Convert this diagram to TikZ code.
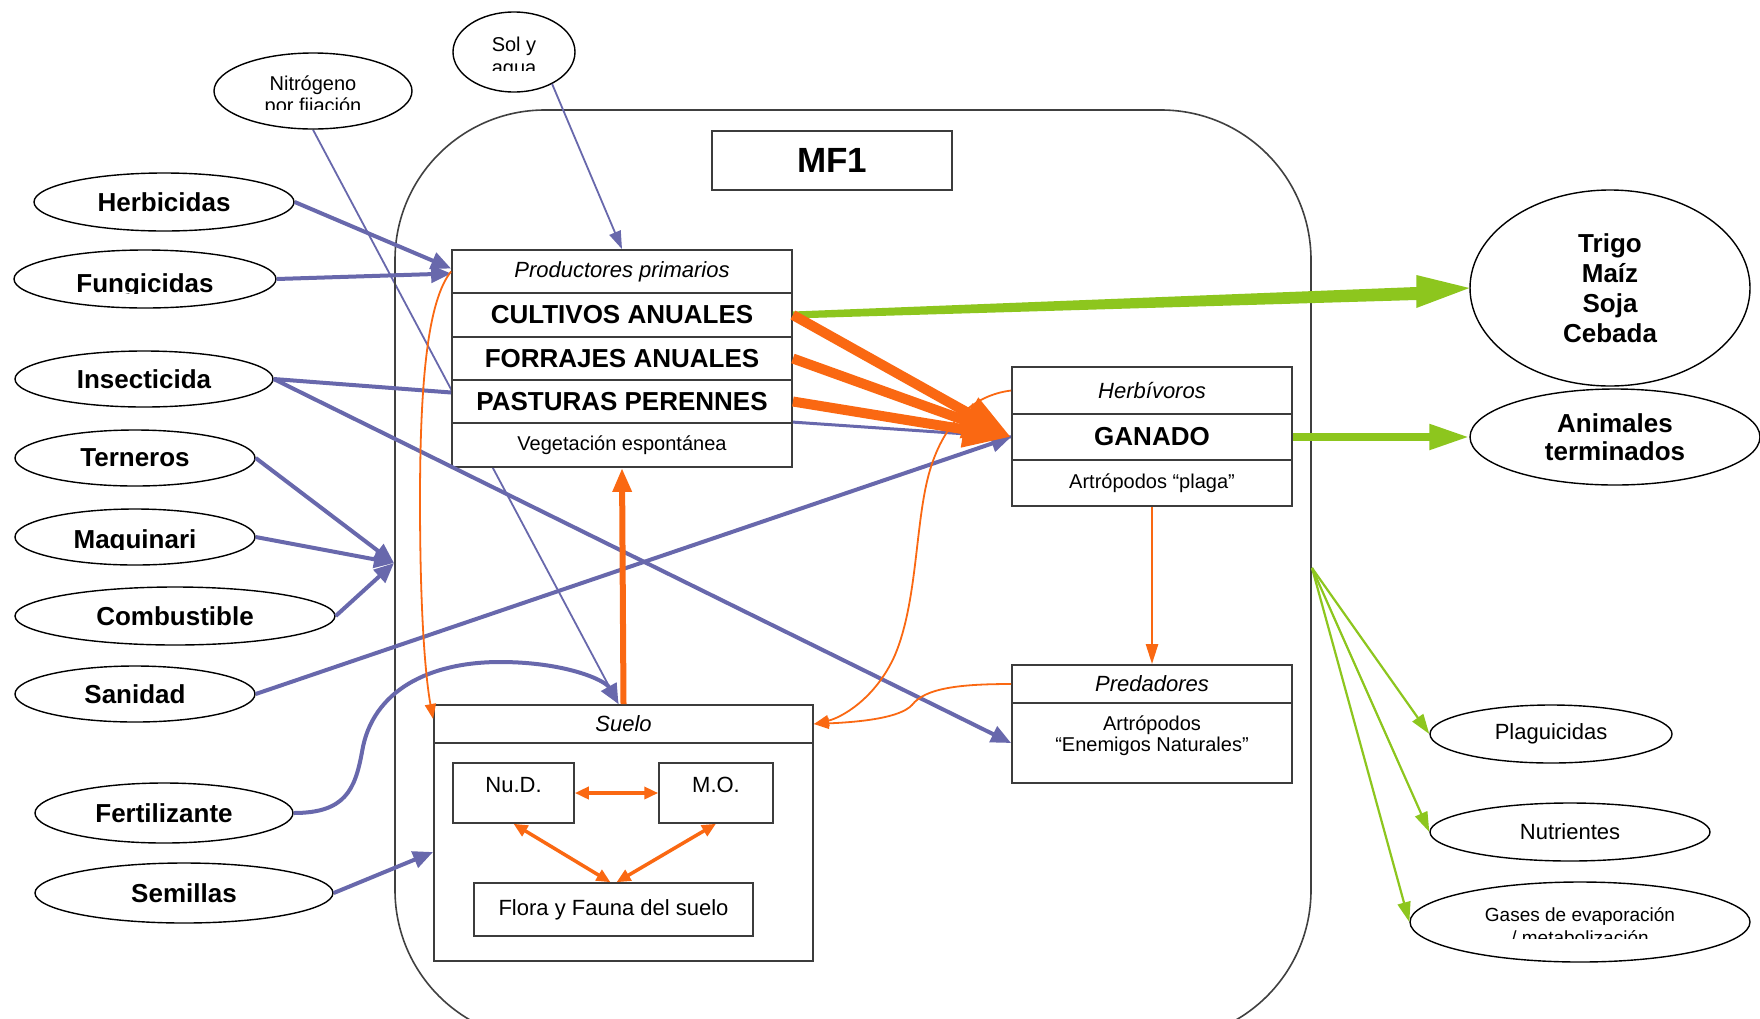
\documentclass[tikz,border=0pt]{standalone}
\usepackage{fontspec}
\setmainfont{Liberation Sans}
\usetikzlibrary{arrows.meta,shapes.geometric,calc}
\definecolor{flowpurple}{RGB}{104,104,172}
\definecolor{floworange}{RGB}{250,104,18}
\definecolor{flowgreen}{RGB}{141,198,30}
\definecolor{boxgray}{RGB}{60,60,60}
\pgfdeclarelayer{behind}
\pgfsetlayers{behind,main}
\begin{document}
\begin{tikzpicture}[x=1pt,y=-1pt,
  oval/.style={ellipse, draw=black, line width=1.4pt, fill=white, inner sep=0pt, align=center},
  cell/.style={rectangle, draw=boxgray, line width=1.8pt, fill=white, inner sep=0pt, align=center},
  inner/.style={rectangle, draw=boxgray, line width=1.5pt, fill=white, inner sep=0pt},
  boldtxt/.style={font=\fontsize{26}{30}\selectfont\bfseries},
  hdrtxt/.style={font=\fontsize{22}{26}\selectfont\itshape},
  smalltxt/.style={font=\fontsize{20}{21}\selectfont},
  midtxt/.style={font=\fontsize{22}{26}\selectfont},
  pthick/.style={draw=flowpurple, line width=4pt, -{Triangle[length=20pt,width=17pt]}},
  pline/.style={draw=flowpurple, line width=4pt},
  pthin/.style={draw=flowpurple, line width=1.8pt, -{Triangle[length=18pt,width=12pt]}},
  obig/.style={draw=floworange, line width=10pt, -{Triangle[length=48pt,width=34pt]}},
  omid/.style={draw=floworange, line width=6pt, -{Triangle[length=24pt,width=18pt]}},
  osoil/.style={draw=floworange, line width=3.5pt, {Triangle[length=14pt,width=12pt]}-{Triangle[length=14pt,width=12pt]}},
  othin/.style={draw=floworange, line width=1.8pt, -{Triangle[length=15pt,width=11pt]}},
  gmid/.style={draw=flowgreen, line width=8pt, -{Triangle[length=40pt,width=24pt]}},
  gthin/.style={draw=flowgreen, line width=2.2pt, -{Triangle[length=20pt,width=13pt]}}
]
\useasboundingbox (0,0) rectangle (1760,1018);
\clip (0,0) rectangle (1760,1018);
\begin{pgfonlayer}{behind}
  \fill[white] (0,0) rectangle (1760,1018);
\end{pgfonlayer}

% system boundary
\draw[draw=black!75, line width=1.6pt, rounded corners=150pt] (395,110) rectangle (1311,1040);

% title
\node[cell, minimum width=240pt, minimum height=59pt, font=\fontsize{35}{40}\selectfont\bfseries] (mf) at (832,160.5) {MF1};

% primary producers
\node[cell, minimum width=340pt, minimum height=43pt, hdrtxt] (prodhdr) at (622,271.5) {Productores primarios};
\node[cell, minimum width=340pt, minimum height=44pt, boldtxt] (prodcult) at (622,315) {CULTIVOS ANUALES};
\node[cell, minimum width=340pt, minimum height=43pt, boldtxt] (prodforr) at (622,358.5) {FORRAJES ANUALES};
\node[cell, minimum width=340pt, minimum height=43pt, boldtxt] (prodpast) at (622,401.5) {PASTURAS PERENNES};
\node[cell, minimum width=340pt, minimum height=44pt, smalltxt] (prodveg) at (622,445) {Vegetación espontánea};

% herbivores
\node[cell, minimum width=280pt, minimum height=47pt, hdrtxt] (herbhdr) at (1152,390.5) {Herbívoros};
\node[cell, minimum width=280pt, minimum height=46pt, boldtxt] (ganado) at (1152,437) {GANADO};
\node[cell, minimum width=280pt, minimum height=46pt, smalltxt] (herbart) at (1152,483) {Artrópodos “plaga”};

% predators
\node[cell, minimum width=280pt, minimum height=38pt, hdrtxt] (predhdr) at (1152,684) {Predadores};
\node[cell, minimum width=280pt, minimum height=80pt] (predbody) at (1152,743) {};
\node[smalltxt, align=center] (predtxt) at (1152,736) {Artrópodos\\“Enemigos Naturales”};

% soil
\node[cell, minimum width=379pt, minimum height=38pt, hdrtxt] (suelohdr) at (623.5,724) {Suelo};
\node[cell, minimum width=379pt, minimum height=218pt] (suelobody) at (623.5,852) {};
\node[inner, minimum width=121pt, minimum height=60pt] (nud) at (513.5,793) {};
\node[midtxt] (nudtxt) at (513.5,785) {Nu.D.};
\node[inner, minimum width=114pt, minimum height=60pt] (mo) at (716,793) {};
\node[midtxt] (motxt) at (716,785) {M.O.};
\node[inner, minimum width=279pt, minimum height=53pt, midtxt] (flora) at (613.5,909.5) {Flora y Fauna del suelo};

% inputs
\node[oval, minimum width=260pt, minimum height=58pt, boldtxt] (herb) at (164,202) {Herbicidas};
\node[oval, minimum width=262pt, minimum height=58pt] (fung) at (145,279) {};
\node[oval, minimum width=258pt, minimum height=56pt, boldtxt] (insect) at (144,379) {Insecticida};
\node[oval, minimum width=240pt, minimum height=56pt, boldtxt] (tern) at (135,458) {Terneros};
\node[oval, minimum width=240pt, minimum height=56pt] (maq) at (135,537) {};
\node[oval, minimum width=320pt, minimum height=58pt, boldtxt] (comb) at (175,616) {Combustible};
\node[oval, minimum width=240pt, minimum height=56pt, boldtxt] (san) at (135,694) {Sanidad};
\node[oval, minimum width=258pt, minimum height=60pt, boldtxt] (fert) at (164,813) {Fertilizante};
\node[oval, minimum width=298pt, minimum height=60pt, boldtxt] (sem) at (184,893) {Semillas};
\node[oval, minimum width=122pt, minimum height=80pt] (sol) at (514,52) {};
\node[oval, minimum width=198pt, minimum height=76pt] (nitro) at (313,91) {};

% outputs
\node[oval, minimum width=280pt, minimum height=196pt, font=\fontsize{26}{30}\selectfont\bfseries] (trigo) at (1610,288) {Trigo\\Maíz\\Soja\\Cebada};
\node[oval, minimum width=290pt, minimum height=96pt, font=\fontsize{26}{28}\selectfont\bfseries] (anim) at (1615,437) {Animales\\terminados};
\node[oval, minimum width=242pt, minimum height=58pt, midtxt] (plag) at (1551,734) {Plaguicidas};
\node[oval, minimum width=280pt, minimum height=58pt, midtxt] (nut) at (1570,832) {Nutrientes};
\node[oval, minimum width=340pt, minimum height=80pt] (gases) at (1580,922) {};

% labels cut off by their frames
\begin{scope}
  \clip (440,0) rectangle (590,70.5);
  \node[align=center, font=\fontsize{20}{23}\selectfont] (soltxt) at (514,58) {Sol y\\agua};
\end{scope}
\begin{scope}
  \clip (200,60) rectangle (420,109);
  \node[align=center, font=\fontsize{20}{22}\selectfont] (nitrotxt) at (313,96) {Nitrógeno\\por fijación};
\end{scope}
\begin{scope}
  \clip (0,250) rectangle (300,293.5);
  \node[boldtxt, anchor=base] (fungtxt) at (145,292) {Fungicidas};
\end{scope}
\begin{scope}
  \clip (0,500) rectangle (300,549.5);
  \node[boldtxt, anchor=base] (maqtxt) at (135,548) {Maquinari};
\end{scope}
\begin{scope}
  \clip (1400,880) rectangle (1760,938.5);
  \node[align=center, font=\fontsize{19}{23}\selectfont] (gasestxt) at (1580,926.5) {Gases de evaporación\\/ metabolización};
\end{scope}

% nitrogen fixation passes behind the producers block
\begin{pgfonlayer}{behind}
  \draw[pthin] (nitro.south) -- ($(suelohdr.north)+(-5,0)$);
\end{pgfonlayer}

% purple inputs
\coordinate (sysin) at (394,563);
\draw[pthin] (sol.-40) -- (prodhdr.north);
\draw[pthick] (herb.east) -- ($(prodhdr.west)+(0,-3)$);
\draw[pthick] (fung.east) -- ($(prodhdr.west)+(0,2)$);
\draw[pline] (insect.east) -- ($(prodpast.west)+(0,-9)$);
\draw[pthick] (insect.east) -- (predbody.west);
\draw[pthick] (tern.east) -- (sysin);
\draw[pthick] (maq.east) -- (sysin);
\draw[pthick] (comb.east) -- (sysin);
\draw[pthick] (san.east) -- (ganado.west);
\draw[pline, line width=3pt] (prodveg.north east) -- (ganado.west);
\draw[pthick] (fert.east) .. controls (345,813) and (355,790) .. (362,752)
  .. controls (372,690) and (430,662) .. (500,662)
  .. controls (565,662) and (605,680) .. ($(suelohdr.north)+(-5,0)$);
\draw[pthick] (sem.east) -- (suelobody.west);

% green outputs (the crop flow widens towards its head)
\coordinate (sysout) at (1312,568);
\fill[flowgreen] ($(prodcult.east)+(0,-3.5)$) -- ($(trigo.west)+(-53,-1)$)
  -- ($(trigo.west)+(-53,-13)$) -- (trigo.west) -- ($(trigo.west)+(-53,20)$)
  -- ($(trigo.west)+(-53,12)$) -- ($(prodcult.east)+(0,3.5)$) -- cycle;
\draw[gmid] (ganado.east) -- (anim.west);
\draw[gthin] (sysout) -- (plag.west);
\draw[gthin] (sysout) -- (nut.west);
\draw[gthin] (sysout) -- (gases.west);

% orange internal flows
\draw[obig] (prodcult.east) -- (ganado.west);
\draw[obig] (prodforr.east) -- (ganado.west);
\draw[obig] (prodpast.east) -- (ganado.west);
\draw[omid] (suelohdr.north) -- (prodveg.south);
\draw[othin, line width=2.5pt, -{Triangle[length=20pt,width=12pt]}] (herbart.south) -- (predhdr.north);
\draw[othin] (prodhdr.west) .. controls (428,300) and (420,380) .. (420,500)
  .. controls (420,620) and (426,680) .. ($(suelohdr.west)+(0,-5)$);
\draw[othin] (herbhdr.west) .. controls (975,395) and (945,420) .. (930,470)
  .. controls (915,520) and (918,600) .. (895,655)
  .. controls (875,700) and (840,718) .. (suelohdr.east);
\draw[othin] (predhdr.west) .. controls (960,684) and (925,688) .. (912,705)
  .. controls (900,718) and (860,722) .. (suelohdr.east);
\draw[osoil] (nud.east) -- (mo.west);
\draw[osoil] (nud.south) -- ($(flora.north)+(-3,0)$);
\draw[osoil] (mo.south) -- ($(flora.north)+(3,0)$);
\end{tikzpicture}
\end{document}
